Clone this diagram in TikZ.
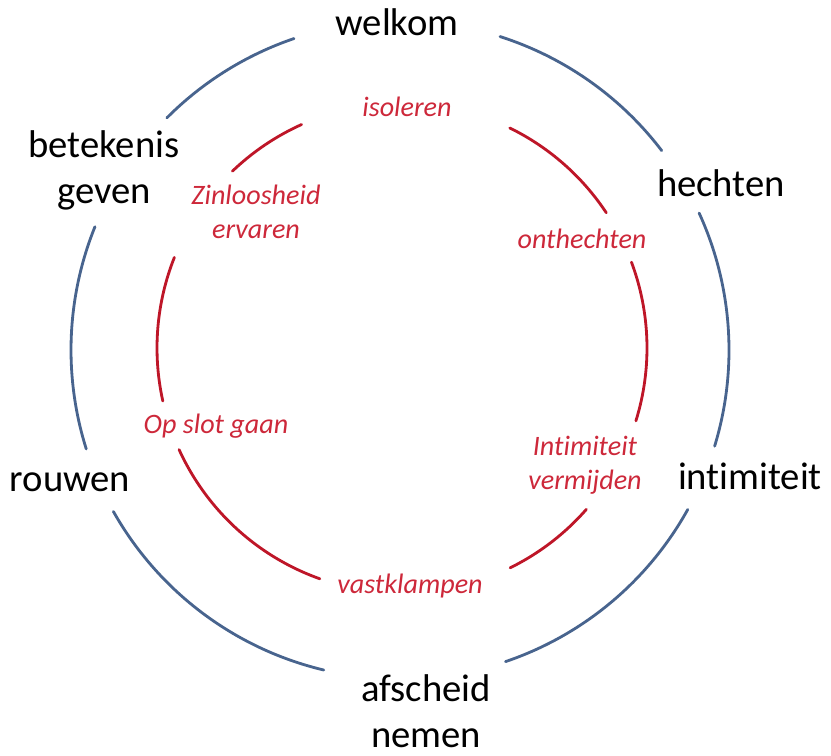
\documentclass[tikz,border=0pt]{standalone}
\usepackage{fontspec}
\setmainfont[Ligatures=NoCommon]{Carlito}
\definecolor{cirkelblauw}{RGB}{72,100,142}
\definecolor{cirkelrood}{RGB}{190,22,40}
\definecolor{tekstrood}{RGB}{205,40,58}
\begin{document}
\begin{tikzpicture}[
    x=0.02cm, y=0.02cm,
    line cap=round,
    buiten/.style={draw=cirkelblauw, line width=1.6pt},
    binnen/.style={draw=cirkelrood, line width=1.6pt},
    fase/.style={font=\fontsize{22}{26.5}\selectfont, text=black, align=center, anchor=base, inner sep=0pt},
    valkuil/.style={font=\fontsize{16}{19.5}\selectfont\itshape, text=tekstrood, align=center, anchor=base, inner sep=0pt}
]
\useasboundingbox (0,0) rectangle (831,756);

% Middelpunten van de twee cirkels
\coordinate (O) at (400,406);
\coordinate (M) at (402,408);

% Buitenste cirkel
\draw[buiten] (O) ++(108.8:329) arc[start angle=108.8, end angle=135.1, radius=329];
\draw[buiten] (O) ++(158:329) arc[start angle=158, end angle=197.5, radius=329];
\draw[buiten] (O) ++(209.4:329) arc[start angle=209.4, end angle=256.6, radius=329];
\draw[buiten] (O) ++(288.7:329) arc[start angle=288.7, end angle=331, radius=329];
\draw[buiten] (O) ++(343:329) arc[start angle=343, end angle=384.6, radius=329];
\draw[buiten] (O) ++(37.3:329) arc[start angle=37.3, end angle=72.3, radius=329];

% Binnenste cirkel
\draw[binnen] (M) ++(114.2:245) arc[start angle=114.2, end angle=133.8, radius=245];
\draw[binnen] (M) ++(158.3:245) arc[start angle=158.3, end angle=192.5, radius=245];
\draw[binnen] (M) ++(204.5:245) arc[start angle=204.5, end angle=250.4, radius=245];
\draw[binnen] (M) ++(296.2:245) arc[start angle=296.2, end angle=318.8, radius=245];
\draw[binnen] (M) ++(342.7:245) arc[start angle=342.7, end angle=380.5, radius=245];
\draw[binnen] (M) ++(33.5:245) arc[start angle=33.5, end angle=63.9, radius=245];

% Fasen (bij twee regels: basislijn van de onderste regel)
\node[fase] (welkom) at (397,720) {welkom};
\node[fase] (hechten) at (721,559) {hechten};
\node[fase] (intimiteit) at (750,266) {intimiteit};
\node[fase] (afscheid) at (426,8) {afscheid\\nemen};
\node[fase] (rouwen) at (70,264) {rouwen};
\node[fase] (betekenis) at (104,552) {betekenis\\geven};

% Valkuilen
\node[valkuil] (isoleren) at (407,639) {isoleren};
\node[valkuil] (onthechten) at (582,507) {onthechten};
\node[valkuil] (vermijden) at (585,266) {Intimiteit\\vermijden};
\node[valkuil] (vastklampen) at (410,162) {vastklampen};
\node[valkuil] (opslot) at (216,322) {Op slot gaan};
\node[valkuil] (zinloos) at (256,517) {Zinloosheid\\ervaren};

\end{tikzpicture}
\end{document}
